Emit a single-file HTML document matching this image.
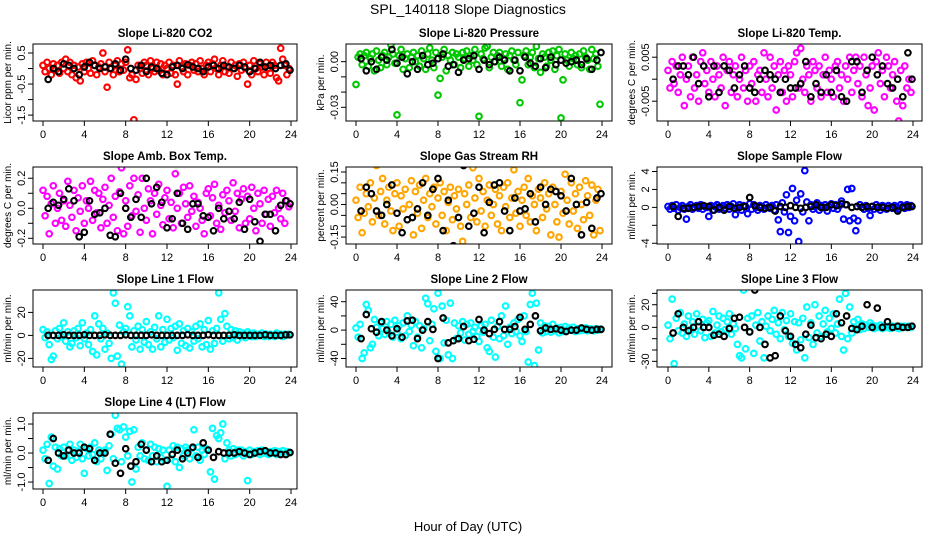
<!DOCTYPE html>
<html><head><meta charset="utf-8"><style>
html,body{margin:0;padding:0;background:#fff;}
svg{display:block;font-family:"Liberation Sans",sans-serif;}
</style></head><body>
<svg id="c" width="936" height="540" viewBox="0 0 936 540" xmlns="http://www.w3.org/2000/svg">
<text x="468" y="14" text-anchor="middle" font-size="14">SPL_140118  Slope Diagnostics</text>
<text x="468" y="531" text-anchor="middle" font-size="13">Hour of Day (UTC)</text>
</svg>
<script>
const hours=[0,0.2,0.4,0.6,0.8,1,1.2,1.4,1.6,1.8,2,2.2,2.4,2.6,2.8,3,3.2,3.4,3.6,3.8,4,4.2,4.4,4.6,4.8,5,5.2,5.4,5.6,5.8,6,6.2,6.4,6.6,6.8,7,7.2,7.4,7.6,7.8,8,8.2,8.4,8.6,8.8,9,9.2,9.4,9.6,9.8,10,10.2,10.4,10.6,10.8,11,11.2,11.4,11.6,11.8,12,12.2,12.4,12.6,12.8,13,13.2,13.4,13.6,13.8,14,14.2,14.4,14.6,14.8,15,15.2,15.4,15.6,15.8,16,16.2,16.4,16.6,16.8,17,17.2,17.4,17.6,17.8,18,18.2,18.4,18.6,18.8,19,19.2,19.4,19.6,19.8,20,20.2,20.4,20.6,20.8,21,21.2,21.4,21.6,21.8,22,22.2,22.4,22.6,22.8,23,23.2,23.4,23.6,23.8];
const blackHours=[0.5,1,1.5,2,2.5,3,3.5,4,4.5,5,5.5,6,6.5,7,7.5,8,8.5,9,9.5,10,10.5,11,11.5,12,12.5,13,13.5,14,14.5,15,15.5,16,16.5,17,17.5,18,18.5,19,19.5,20,20.5,21,21.5,22,22.5,23,23.5,23.9];
const xTicks=[0,4,8,12,16,20,24];
const titles=["Slope Li-820 CO2","Slope Li-820 Pressure","Slope Li-820 Temp.","Slope Amb. Box Temp.","Slope Gas Stream RH","Slope Sample Flow","Slope Line 1 Flow","Slope Line 2 Flow","Slope Line 3 Flow","Slope Line 4 (LT) Flow"];
const yTitles=["Licor ppm per min.","kPa per min.","degrees C per min.","degrees C per min.","percent per min.","ml/min per min.","ml/min per min.","ml/min per min.","ml/min per min.","ml/min per min."];
const co2=[0.1,-0.1,0.2,0.0,-0.2,0.15,-0.05,0.1,-0.15,0.2, 0.0,0.3,-0.1,0.2,-0.2,0.1,-0.3,0.05,-0.4,0.15, -0.1,0.2,0.0,-0.15,0.25,0.1,-0.2,0.05,0.15,0.5, -0.1,-0.6,0.2,0.0,-0.2,0.1,0.25,-0.1,0.15,-0.05, 0.2,0.6,-0.3,-0.2,-1.65,-0.35,0.1,0.0,-0.15,0.2, 0.1,-0.2,0.25,0.0,-0.1,0.2,-0.05,0.15,-0.2,0.1, 0.0,0.2,-0.15,0.1,-0.2,-0.5,0.25,0.05,-0.1,0.15, -0.2,0.1,0.2,-0.05,0.15,-0.1,0.25,0.0,-0.2,0.1, 0.2,-0.1,0.15,0.3,0.0,-0.2,0.1,0.25,-0.1,0.05, -0.15,0.2,0.0,0.1,-0.25,0.15,-0.05,0.2,0.0,-0.5, 0.1,-0.2,0.25,0.0,-0.1,0.15,0.05,-0.2,0.2,0.0, -0.15,0.2,0.1,-0.3,-0.4,0.65,0.3,0.1,-0.2,0.0];
const co2Black=[-0.35,0.0,-0.1,0.15,0.1,0.0,-0.2,0.05,0.2,0.1,0.0,0.05,0.0,0.15,-0.05,0.3,0.0,-0.05,0.1,-0.1,0.05,0.0,-0.15,-0.2,0.05,0.1,0.0,0.12,0.05,0.0,-0.1,0.05,0.1,0.0,0.1,0.05,0.0,0.1,0.05,-0.1,0.0,0.2,0.05,0.1,0.0,0.1,0.15,-0.05];
const pres=[-0.015,0.003,0.005,-0.002,0.004,0.006,-0.003,0.002,0.005,-0.006, 0.007,0.001,-0.004,0.004,0.006,-0.002,0.003,0.011,0.005,-0.001, -0.035,0.004,0.008,-0.005,0.002,0.005,-0.004,0.003,0.006,0.000, 0.004,-0.003,0.007,0.002,-0.005,0.005,0.009,0.001,-0.004,0.006, -0.022,-0.011,0.003,0.008,-0.006,0.004,0.001,0.006,-0.002,0.005, 0.003,-0.004,0.006,0.002,0.007,-0.003,0.004,0.001,0.008,-0.002, -0.036,0.005,0.002,0.009,0.010,-0.004,0.003,0.006,0.000,0.004, 0.006,-0.003,0.002,0.005,-0.005,0.004,0.007,0.001,-0.002,0.006, -0.027,-0.012,0.004,0.007,-0.002,0.003,0.006,-0.004,0.010,0.002, -0.007,0.005,0.003,-0.003,0.006,0.001,0.007,-0.005,0.004,0.008, -0.037,-0.012,0.005,0.001,-0.003,0.006,0.002,0.004,-0.002,0.005, -0.004,0.007,0.003,0.001,-0.005,0.008,0.002,0.005,-0.003,-0.028];
const presBlack=[0.002,-0.006,0.000,-0.005,0.003,0.001,0.008,-0.001,0.003,-0.008,0.000,-0.005,0.004,-0.002,-0.001,0.002,0.005,-0.003,-0.002,-0.007,0.001,0.002,0.004,-0.005,0.001,-0.002,0.000,0.003,0.001,-0.006,0.001,-0.006,0.003,-0.001,-0.003,0.002,-0.004,0.003,-0.002,0.001,-0.001,0.000,0.001,-0.002,0.002,-0.005,0.001,0.006];
const temp=[0.002,-0.002,0.004,-0.001,0.003,-0.003,0.001,0.005,-0.006,0.000, 0.003,-0.004,0.005,-0.002,0.001,-0.005,0.004,0.006,-0.001,0.002, -0.003,0.004,0.000,-0.004,0.003,0.001,-0.002,0.005,-0.006,0.002, 0.004,-0.003,0.001,0.003,-0.004,0.000,0.005,-0.002,0.002,-0.005, 0.003,-0.001,0.004,-0.005,0.001,0.002,-0.003,0.006,0.000,-0.004, 0.005,-0.002,0.003,-0.007,0.001,0.004,-0.003,0.002,-0.005,0.003, 0.001,-0.004,0.004,0.006,-0.002,0.007,0.000,-0.003,0.003,0.001, -0.005,0.004,0.002,-0.002,0.003,-0.004,0.001,0.005,-0.003,0.002, 0.000,-0.004,0.003,0.004,-0.002,0.001,-0.005,0.003,0.000,0.005, -0.003,0.002,0.005,-0.001,0.003,-0.004,0.005,0.001,-0.006,-0.002, 0.003,-0.007,0.004,0.006,-0.001,0.002,-0.004,0.005,0.003,-0.002, 0.001,0.004,-0.005,-0.0095,0.002,-0.006,0.003,-0.002,0.000,-0.003];
const tempBlack=[0.000,0.003,0.003,0.001,0.005,-0.001,0.003,-0.004,0.003,-0.003,0.003,0.002,-0.002,0.001,0.003,-0.002,-0.003,0.000,0.002,0.001,0.000,-0.003,0.000,-0.002,-0.002,-0.001,0.004,-0.004,-0.001,-0.003,0.001,-0.003,0.002,-0.004,-0.005,0.004,0.004,-0.003,0.002,0.005,0.001,0.003,-0.001,-0.002,0.000,-0.004,0.006,0.000];
const amb=[0.12,-0.05,0.08,-0.17,0.03,0.15,-0.1,0.0,0.1,-0.08, 0.05,-0.12,0.18,0.02,-0.06,0.12,-0.15,0.07,-0.02,0.15, -0.1,0.05,0.0,0.18,-0.08,0.12,-0.03,0.1,-0.13,0.06, 0.14,-0.1,0.02,0.2,-0.06,0.08,-0.15,0.11,0.27,-0.17, 0.05,-0.12,0.15,-0.05,0.2,-0.02,0.09,-0.16,0.2,0.0, -0.08,0.13,0.05,-0.17,0.1,-0.04,0.16,0.02,-0.11,0.07, 0.12,-0.07,0.04,-0.13,0.23,0.0,0.1,-0.1,0.14,0.03, -0.06,0.15,-0.02,0.08,-0.12,0.04,0.0,-0.08,-0.17,0.1, 0.13,-0.05,0.07,0.16,-0.1,0.02,-0.14,0.09,-0.03,0.12, 0.05,-0.08,0.17,-0.02,0.1,-0.13,0.06,0.13,-0.1,0.08, -0.07,0.14,0.0,-0.15,0.1,0.03,-0.1,0.12,-0.04,0.06, -0.12,0.08,-0.03,0.12,0.0,-0.07,0.1,-0.1,0.05,0.01];
const ambBlack=[0.0,0.04,0.02,0.06,0.13,0.05,-0.19,-0.16,0.05,-0.04,-0.03,0.0,-0.18,-0.19,0.1,0.0,-0.06,0.06,-0.06,0.2,0.03,0.14,0.04,-0.13,-0.07,0.1,-0.1,-0.14,0.03,0.03,-0.05,-0.06,-0.15,0.0,-0.07,-0.02,-0.07,0.04,-0.14,0.06,-0.09,-0.22,-0.04,-0.04,-0.15,0.02,0.05,0.03];
const rh=[0.02,-0.06,0.08,-0.13,-0.04,0.05,-0.01,0.1,-0.08,0.03, 0.18,-0.05,0.06,0.12,-0.09,0.02,0.08,-0.03,-0.12,0.05, 0.1,-0.1,0.04,-0.02,0.07,-0.07,0.0,0.11,-0.14,0.06, -0.04,0.09,-0.11,0.02,0.12,-0.06,0.05,-0.01,0.08,-0.09, 0.03,0.1,-0.05,0.06,-0.12,0.01,0.08,-0.07,0.04,-0.02, 0.07,-0.1,-0.17,0.05,0.0,0.09,-0.06,0.17,0.03,-0.08, 0.12,-0.03,0.06,-0.1,0.02,0.09,-0.05,0.0,0.07,-0.09, 0.04,-0.12,0.08,-0.01,0.1,-0.06,0.03,0.16,-0.04,0.06, -0.1,0.02,0.08,-0.05,0.12,-0.08,0.04,0.0,-0.12,0.07, 0.03,-0.06,0.1,-0.02,0.05,-0.14,0.08,0.0,-0.08,-0.15, 0.06,-0.04,0.14,0.02,-0.09,0.1,-0.03,0.05,-0.11,0.08, 0.0,-0.07,0.11,0.04,-0.05,0.09,-0.14,0.02,0.07,-0.12];
const rhBlack=[-0.03,0.08,0.05,-0.03,-0.05,0.0,0.09,-0.04,-0.13,-0.07,-0.06,-0.02,0.1,-0.05,0.07,0.12,-0.12,0.02,-0.19,-0.06,0.18,-0.1,-0.04,0.08,-0.13,0.01,0.09,0.1,-0.03,-0.12,0.03,-0.03,-0.02,0.05,-0.08,0.08,0.0,0.07,0.06,0.04,-0.03,0.12,0.0,-0.14,0.01,-0.11,0.03,0.05];
const sflow=[0.1,-0.2,0.2,-0.1,0.3,-0.3,0.0,0.2,-0.2,-1.3, 0.1,0.3,-0.2,0.0,0.2,-0.1,0.3,-0.2,0.1,0.0, -1.0,0.2,-0.3,0.1,0.3,-0.2,0.0,0.2,-0.1,0.3, -0.2,0.1,0.4,-0.8,0.0,0.3,-0.3,0.2,0.1,-0.7, 0.4,-0.2,0.3,0.0,-0.3,0.2,0.1,-0.2,0.3,0.0, -0.1,0.2,-0.3,0.3,-1.4,-2.7,0.5,-0.5,1.4,-2.8, -1.0,2.1,-1.5,0.8,-3.8,1.5,-0.5,4.1,0.6,-1.5, 0.3,-0.2,0.1,0.5,-0.3,0.2,0.0,0.3,-0.4,0.1, 0.4,-0.1,0.3,-0.2,0.2,0.7,-1.3,0.3,2.0,-1.5, 2.1,-1.2,-2.6,-1.5,0.3,0.0,-0.2,0.2,-0.1,-0.9, 0.1,-0.2,0.3,0.0,-0.3,0.2,0.1,-0.2,0.2,0.0, -0.1,0.2,0.0,-0.2,0.3,0.1,-0.1,0.3,0.0,0.2];
const sflowBlack=[0.1,-1.0,-0.1,-0.1,0.0,0.1,0.2,0.1,-0.3,0.0,-0.3,0.1,-0.1,0.0,0.1,1.1,0.2,0.0,-0.1,0.0,-0.4,0.1,0.0,0.2,0.0,-0.1,0.0,0.1,0.3,0.0,0.0,0.3,0.2,0.4,0.3,0.0,0.1,0.0,0.1,0.1,0.0,0.0,-0.1,0.0,-0.4,0.0,0.1,0.1];
const line1=[5,-2,3,-8,-21,-18,4,-3,6,-1, 11,-5,3,-10,-7,4,-2,6,-9,11, -3,2,-8,5,-14,17,-17,10,-3,6, -12,2,-7,-20,37,28,-18,9,-25,3, 6,25,17,-10,4,-4,8,-12,5,-6, 12,-8,3,-12,7,-3,17,-10,5,-6, 14,-4,6,-2,8,-13,10,-7,4,-9, 6,-11,3,-5,8,-3,10,-10,5,-8, 13,-12,4,-7,6,37,14,-5,19,8, -3,5,-2,4,-4,3,-1,2,-2,3, 1,-1,2,-1,1,0,2,-1,1,-1, 1,0,-1,2,0,1,-1,1,0,1];
const line1Black=[0,0,0,0.5,0,0,0,0.5,0,0,0,0.5,0,0,0,0.5,0,0,0,0,0.5,0,0,0,0,0,0,0.5,0,0,0,0.5,0,0,0,0,0.5,0,0,0,0,0,0.5,0,0,0,0.5,0.5];
const line2=[3,-10,8,-40,-32,36,28,-25,-20,15, 4,-8,10,2,-6,12,-4,8,-10,14, -3,6,-12,10,-8,20,-2,7,-22,12, -10,6,-25,2,45,37,-15,8,30,-30, 52,-40,34,-18,14,-35,38,-40,10,-12, 6,-4,12,-14,8,-6,10,-2,4,-9, -16,6,-3,8,-25,-30,14,-10,-38,5, -12,20,-8,34,-20,4,-5,10,-2,15, -8,-16,20,-2,-45,36,52,-50,38,-28, 10,-4,6,-2,5,-3,8,-1,3,-4, 4,-2,5,-1,3,0,4,-2,2,-1, 2,0,3,-1,2,1,-1,2,0,1];
const line2Black=[-12,22,2,-3,12,0,-8,2,-10,13,14,-12,0,12,1,-40,17,-18,-15,-12,5,-15,-13,15,0,-5,1,12,1,1,5,18,1,8,20,-1,3,1,2,0,-2,0,0,3,1,0,1,1];
const line3=[2,-10,25,-32,8,-3,13,-5,3,-8, 10,-2,5,-6,12,1,-3,7,-9,4, 6,-8,14,-5,2,10,-4,8,-2,5, 12,-6,3,-1,-15,-25,-27,33,-19,8, -4,10,-23,2,13,-12,5,-27,1,10, -3,7,15,-6,4,-10,13,-2,6,-8, 12,-14,5,-20,4,-11,8,-27,18,-9, 4,-15,20,-5,10,-8,3,15,-4,8, -1,12,-5,3,25,-8,-20,30,-10,18, -5,5,-1,7,-2,3,-1,2,0,4, 2,-1,1,0,2,-1,1,0,1,-1, 1,0,1,-1,1,0,1,0,1,0];
const line3Black=[-5,12,0,-3,0,5,0,0,-7,-6,-8,-1,8,9,0,-4,33,0,-15,-27,-25,10,-3,-8,-15,-18,-6,2,-9,-10,-6,-8,12,4,10,-1,-2,1,20,0,17,0,5,0,1,0,0,1];
const line4=[0.1,-0.2,0.3,-1.05,0.55,-0.45,0.2,-0.55,0.15,-0.1, 0.2,-0.1,0.1,0.3,-0.25,0.1,-0.15,0.05,0.3,-0.2, -0.7,0.15,-0.1,0.2,-0.05,0.35,-0.3,0.1,-0.2,0.05, 0.1,-0.6,0.25,0.65,-0.2,1.3,0.85,0.8,-0.3,0.9, 0.55,-0.1,0.75,-1.0,0.8,-0.55,0.2,-0.1,0.35,-0.2, 0.1,-0.25,0.3,-0.1,0.2,-0.3,0.15,-0.15,0.1,-0.25, -1.15,0.1,-0.2,0.25,-0.3,0.2,-0.5,0.15,-0.1,0.2, 0.1,-0.2,0.15,0.8,-0.1,0.2,-0.25,0.1,-0.05,0.15, 0.1,-0.65,0.85,-0.9,0.6,0.5,0.7,1.0,-0.2,0.35, 0.1,-0.1,0.15,-0.05,0.1,0.0,0.1,-0.1,0.05,-0.95, 0.1,-0.05,0.05,0.0,0.08,-0.05,0.1,0.0,0.05,-0.05, 0.05,0.0,0.08,-0.05,0.05,0.0,0.08,-0.03,0.05,0.0];
const line4Black=[-0.25,0.5,0.0,-0.1,0.1,0.0,0.0,0.2,0.15,-0.25,0.0,0.0,0.65,-0.35,-0.7,0.15,-0.45,-0.3,0.3,0.1,-0.3,-0.1,-0.3,-0.25,-0.05,0.1,-0.2,0.0,0.2,-0.15,0.35,0.1,-0.15,0.05,0.0,0.0,0.0,0.05,0.0,-0.05,0.0,0.05,0.08,0.0,0.0,-0.05,-0.05,0.02];
const colorSeries=[co2,pres,temp,amb,rh,sflow,line1,line2,line3,line4];
const blackSeries=[co2Black,presBlack,tempBlack,ambBlack,rhBlack,sflowBlack,line1Black,line2Black,line3Black,line4Black];
const yTickVals=[[0.5,0,-0.5,-1,-1.5],[0,-0.01,-0.02,-0.03],[0.005,0,-0.005],[0.2,0.1,0,-0.1,-0.2],[0.15,0.1,0.05,0,-0.05,-0.1,-0.15],[4,2,0,-2,-4],[40,20,0,-20],[40,20,0,-20,-40],[30,20,10,0,-10,-20,-30],[1,0.5,0,-0.5,-1]];
const yTickLabels=[["0.5","","-0.5","","-1.5"],["0.00","","","-0.03"],["0.005","","-0.005"],["0.2","","0.0","","-0.2"],["0.15","","","0.00","","","-0.15"],["4","2","0","","-4"],["40","20","0","-20"],["40","","0","","-40"],["","20","","0","","","-30"],["1.0","","0.0","","-1.0"]];

const cols=[{bl:33,br:297,x0:43,x24:291},{bl:346,br:612,x0:356,x24:602},{bl:657,br:922,x0:668,x24:913}];
const rows=[{t:44,b:121},{t:167,b:244},{t:290,b:367},{t:413,b:489}];
const yLims=[[0.79,-1.69],[0.0116,-0.039],[0.008,-0.0095],[0.275,-0.238],[0.173,-0.182],[4.5,-4.08],[39.5,-27.5],[56.5,-52],[33,-35],[1.38,-1.24]];
const colors=["#ff0000","#00c800","#ff00ff","#ff00ff","#ffa500","#0000ff","#00ffff","#00ffff","#00ffff","#00ffff"];
const NS="http://www.w3.org/2000/svg";
const svg=document.getElementById('c');
function mk(tag,attrs,parent){const e=document.createElementNS(NS,tag);for(const k in attrs)e.setAttribute(k,attrs[k]);parent.appendChild(e);return e;}
const slugs=["co2","pressure","li820-temp","amb-box-temp","gas-stream-rh","sample-flow","line1-flow","line2-flow","line3-flow","line4-flow"];
for(let p=0;p<10;p++){
  const c=cols[p%3],r=rows[Math.floor(p/3)],lim=yLims[p];
  const xs=h=>c.x0+(c.x24-c.x0)*h/24;
  const ys=v=>r.t+(lim[0]-v)/(lim[0]-lim[1])*(r.b-r.t);
  const g=mk('g',{},svg);
  
  
  const cp=mk('clipPath',{id:'cp'+p},g);
  mk('rect',{x:c.bl,y:r.t,width:c.br-c.bl,height:r.b-r.t},cp);
  const t=mk('text',{x:(c.bl+c.br)/2,y:r.t-7,'text-anchor':'middle','font-size':'11.5','font-weight':'bold'},g);
  t.textContent=titles[p];
  
  
  const yt=mk('text',{transform:`translate(${c.bl-22},${(r.t+r.b)/2}) rotate(-90)`,'text-anchor':'middle','font-size':'10'},g);
  yt.textContent=yTitles[p];
  
  
  const pts=mk('g',{'clip-path':`url(#cp${p})`,fill:'none','stroke-width':'2.1'},g);
  
  
  const cs=colorSeries[p];
  for(let i=0;i<cs.length;i++){
    const e=mk('circle',{cx:xs(hours[i]).toFixed(1),cy:ys(cs[i]).toFixed(1),r:2.8,stroke:colors[p]},pts);
    
    
  }
  const bs=blackSeries[p];
  for(let i=0;i<bs.length;i++){
    const e=mk('circle',{cx:xs(blackHours[i]).toFixed(1),cy:ys(bs[i]).toFixed(1),r:2.8,stroke:'#000'},pts);
    
    
  }
  const box=mk('rect',{x:c.bl,y:r.t,width:c.br-c.bl,height:r.b-r.t,fill:'none',stroke:'#000','stroke-width':'1'},g);
  
  
  const xa=mk('g',{},g);
  
  
  for(const h of xTicks){
    mk('line',{x1:xs(h),x2:xs(h),y1:r.b,y2:r.b+5,stroke:'#000'},xa);
    const tl=mk('text',{x:xs(h),y:r.b+17,'text-anchor':'middle','font-size':'11'},xa);
    tl.textContent=h;
    
    
  }
  const ya=mk('g',{},g);
  
  
  const tv=yTickVals[p],tls=yTickLabels[p];
  for(let i=0;i<tv.length;i++){
    const y=ys(tv[i]);
    if(y<r.t-0.5||y>r.b+0.5)continue;
    mk('line',{x1:c.bl-5,x2:c.bl,y1:y,y2:y,stroke:'#000'},ya);
    if(tls[i]){
      const tl=mk('text',{transform:`translate(${c.bl-8},${y}) rotate(-90)`,'text-anchor':'middle','font-size':'11'},ya);
      tl.textContent=tls[i];
      
      
    }
  }
}
</script>
</body></html>
